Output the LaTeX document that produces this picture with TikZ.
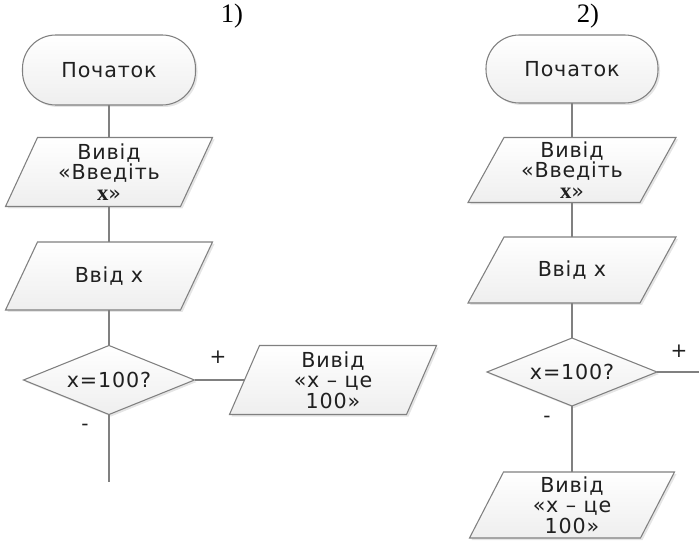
\documentclass[tikz,border=0pt]{standalone}
\usepackage{fontspec}
\setmainfont{DejaVu Sans}[LetterSpace=4]
\newfontfamily\serifnum{Liberation Serif}
\usetikzlibrary{calc}
\definecolor{edgegray}{HTML}{808080}
\definecolor{textgray}{HTML}{202020}
\tikzset{
  box/.style={inner sep=0pt, align=center, text=textgray, font=\fontsize{15.5}{15.5}\selectfont},
  conn/.style={draw=edgegray, line width=1.1pt},
  shapeline/.style={draw=edgegray, line width=0.8pt, top color=white, bottom color=gray!13},
  shadowfill/.style={fill=black, opacity=0.10},
  sign/.style={text=textgray, font=\fontsize{15}{15}\selectfont},
  numlabel/.style={font=\serifnum\fontsize{20}{20}\selectfont},
}
% name, cx, cy, w, h, slant, text
\newcommand\myparallel[7]{%
  \fill[shadowfill] ({#2-#4/2-#6+2},{#3+#5/2+2}) -- ({#2-#4/2+#6+2},{#3-#5/2+2}) -- ({#2+#4/2+#6+2},{#3-#5/2+2}) -- ({#2+#4/2-#6+2},{#3+#5/2+2}) -- cycle;
  \path[shapeline] ({#2-#4/2-#6},{#3+#5/2}) -- ({#2-#4/2+#6},{#3-#5/2}) -- ({#2+#4/2+#6},{#3-#5/2}) -- ({#2+#4/2-#6},{#3+#5/2}) -- cycle;
  \node[box, minimum width={#4*0.75pt}, minimum height={#5*0.75pt}] (#1) at (#2,#3) {#7};
}
% name, cx, cy, w, h, text
\newcommand\mydiamond[6]{%
  \fill[shadowfill] ({#2-#4/2+2},{#3+2}) -- ({#2+2},{#3-#5/2+2}) -- ({#2+#4/2+2},{#3+2}) -- ({#2+2},{#3+#5/2+2}) -- cycle;
  \path[shapeline] ({#2-#4/2},{#3}) -- ({#2},{#3-#5/2}) -- ({#2+#4/2},{#3}) -- ({#2},{#3+#5/2}) -- cycle;
  \node[box, minimum width={#4*0.75pt}, minimum height={#5*0.75pt}] (#1) at (#2,#3) {#6};
}
% name, cx, cy, w, h, text
\newcommand\myterminal[6]{%
  \fill[shadowfill, rounded corners=25pt] ({#2-#4/2+2},{#3-#5/2+2}) rectangle ({#2+#4/2+2},{#3+#5/2+2});
  \path[shapeline, rounded corners=25pt] ({#2-#4/2},{#3-#5/2}) rectangle ({#2+#4/2},{#3+#5/2});
  \node[box, minimum width={#4*0.75pt}, minimum height={#5*0.75pt}] (#1) at (#2,#3) {#6};
}
\newcommand\sx{{\serifnum\bfseries\fontsize{17}{15.5}\selectfont x}}
\begin{document}
\begin{tikzpicture}[x=0.75pt, y=-0.75pt]
\useasboundingbox (0,0) rectangle (699,541);

% ---- diagram 1 ----
\node[numlabel] (lab1) at (232,16) {1)};
\myterminal{t1}{109}{70}{173}{70}{Початок}
\myparallel{p1}{109}{172}{175}{69}{16}{Вивід\\«Введіть\\\sx»}
\myparallel{p2}{109}{276}{175}{68}{16}{Ввід x}
\mydiamond{d1}{109}{380}{171}{69}{x=100?}
\myparallel{r1}{333}{380}{177}{69}{15}{Вивід\\«x – це\\100»}
\coordinate (e1) at (109,482);
\draw[conn] (t1) -- (p1);
\draw[conn] (p1) -- (p2);
\draw[conn] (p2) -- (d1);
\draw[conn] (d1.east) -- (r1.west);
\draw[conn] (d1.south) -- (e1);
\node[sign] (plus1) at (218,357) {+};
\node[sign] (minus1) at (85,427) {-};

% ---- diagram 2 ----
\node[numlabel] (lab2) at (588,16) {2)};
\myterminal{t2}{572}{69}{172}{68}{Початок}
\myparallel{p3}{572}{170}{172}{65}{18}{Вивід\\«Введіть\\\sx»}
\myparallel{p4}{572}{270}{172}{66}{18}{Ввід x}
\mydiamond{d2}{572}{372}{170}{68}{x=100?}
\myparallel{p5}{572}{505}{171}{66}{17}{Вивід\\«x – це\\100»}
\coordinate (e2) at (699,372);
\draw[conn] (t2) -- (p3);
\draw[conn] (p3) -- (p4);
\draw[conn] (p4) -- (d2);
\draw[conn] (d2.east) -- (e2);
\draw[conn] (d2.south) -- (p5.north);
\node[sign] (plus2) at (679,351) {+};
\node[sign] (minus2) at (547,419) {-};
\end{tikzpicture}
\end{document}
